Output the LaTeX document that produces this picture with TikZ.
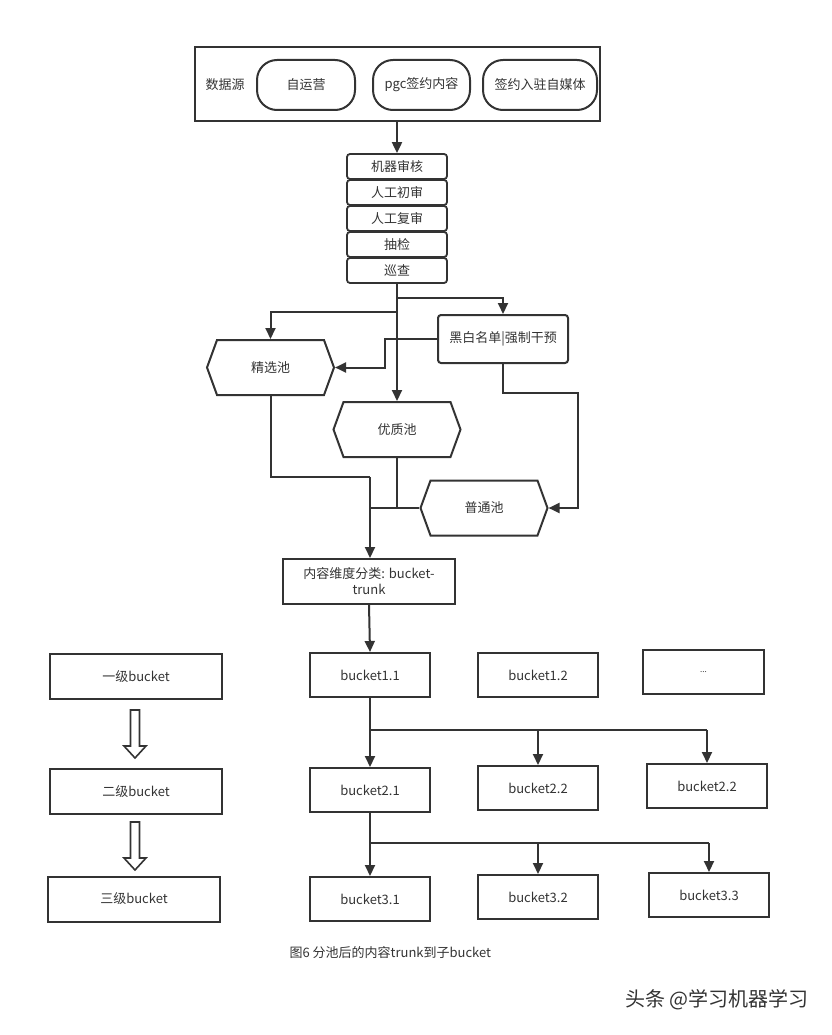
\documentclass[tikz,border=0pt]{standalone}
\usepackage{fontspec}
\setmainfont{Noto Sans CJK SC}
\usetikzlibrary{arrows.meta,calc,shapes.symbols}
\definecolor{ink}{HTML}{333333}

\begin{document}
\begin{tikzpicture}[
    x=1pt, y=-1pt,
    >={Triangle[length=11pt,width=10pt]},
    every node/.style={text=ink,font=\fontsize{13}{16}\selectfont},
    box/.style={draw=ink,line width=2pt,minimum width=120pt,minimum height=44pt,inner sep=2pt},
    source box/.style={draw=ink,line width=2pt,rounded corners=20pt,minimum width=98pt,minimum height=50pt},
    stage box/.style={draw=ink,line width=1.8pt,rounded corners=3pt,minimum width=100pt,minimum height=25pt,inner sep=0pt},
    pool/.style={signal,signal to=east and west,signal pointer angle=140,draw=ink,line width=2pt,minimum width=127pt,minimum height=55pt},
    flow/.style={->,draw=ink,line width=2pt},
    link/.style={draw=ink,line width=2pt},
    hollow/.style={draw=ink,line width=1.6pt,fill=white}
]
\useasboundingbox (0,0) rectangle (831,1035);

% Data sources
\node[draw=ink,line width=2.2pt,minimum width=405pt,minimum height=74pt] (src) at (397.5,84) {};
\node[anchor=west] (srclabel) at (202,85) {数据源};
\node[source box] (ziyunying) at (306,85) {自运营};
\node[source box,minimum width=97pt] (pgc) at (421.5,85) {pgc签约内容};
\node[source box,minimum width=114pt] (zimeiti) at (540,85) {签约入驻自媒体};

% Review stages
\foreach \t [count=\i] in {机器审核,人工初审,人工复审,抽检,巡查}
    \node[stage box] (s\i) at (397,{140.5+26*\i}) {\t};
\draw[flow] (src.south -| s1) -- (s1.north);

% Pools
\node[box,rounded corners=3pt,minimum width=130pt,minimum height=48pt] (mingdan) at (503,339) {黑白名单|强制干预};
\node[pool] (jingxuan) at (270.5,367.5) {精选池};
\node[pool] (youzhi) at (397,429.5) {优质池};
\node[pool] (putong) at (484,508) {普通池};

\coordinate (fork1) at (397,298);
\coordinate (fork2) at (397,312);
\draw[flow] (s5.south) -- (youzhi.north);
\draw[flow] (fork1) -| (mingdan.north);
\draw[flow] (fork2) -| (jingxuan.north);
\draw[flow] (mingdan.west) -- ++(-52,0) |- (jingxuan.east);
\coordinate (rbend) at (578,393);
\draw[flow] (mingdan.south) |- (rbend) |- (putong.east);

% Trunk
\node[box,minimum width=172pt,minimum height=45pt,align=center] (trunk) at (369,581.5) {内容维度分类: bucket-\\trunk};
\coordinate (jbend) at (370,477);
\draw[link] (jingxuan.south) |- (jbend);
\draw[flow] (jbend) -- (jbend |- trunk.north);
\draw[link] (youzhi.south) -- (youzhi.south |- putong.west);
\draw[link] (jbend |- putong.west) -- (putong.west);

% Buckets
\node[box] (b11) at (370,675) {bucket1.1};
\node[box] (b12) at (538,675) {bucket1.2};
\node[box,minimum width=121pt] (b13) at (703.5,672) {\fontsize{8}{10}\selectfont ...};
\node[box] (b21) at (370,790) {bucket2.1};
\node[box] (b22) at (538,788) {bucket2.2};
\node[box] (b23) at (707,786) {bucket2.2};
\node[box] (b31) at (370,899) {bucket3.1};
\node[box] (b32) at (538,897) {bucket3.2};
\node[box] (b33) at (709,895) {bucket3.3};
\draw[flow] (trunk.south) -- (b11.north);

\coordinate (fanA) at (370,730);
\draw[link] (b11.south) -- (fanA) -- (fanA -| b23);
\foreach \n in {b21,b22,b23}
    \draw[flow] (fanA -| \n) -- (\n.north);
\coordinate (fanB) at (370,843);
\draw[link] (b21.south) -- (fanB) -- (fanB -| b33);
\foreach \n in {b31,b32,b33}
    \draw[flow] (fanB -| \n) -- (\n.north);

% Bucket levels
\node[box,minimum width=172pt,minimum height=45pt] (lv1) at (136,676.5) {一级bucket};
\node[box,minimum width=172pt,minimum height=45pt] (lv2) at (136,791.5) {二级bucket};
\node[box,minimum width=172pt,minimum height=45pt] (lv3) at (134,899) {三级bucket};
\foreach \ytop in {710,822}
    \draw[hollow] (130.5,\ytop) -- (139.5,\ytop) -- (139.5,\ytop+36) -- (146,\ytop+36)
        -- (135,\ytop+48) -- (124,\ytop+36) -- (130.5,\ytop+36) -- cycle;

% Caption
\node[anchor=west,font=\fontsize{13}{15}\selectfont] (caption) at (286,953) {图6 分池后的内容trunk到子bucket};
\node[anchor=east,font=\fontsize{20}{22}\selectfont] (mark) at (812,1000) {头条 @学习机器学习};

\end{tikzpicture}
\end{document}
